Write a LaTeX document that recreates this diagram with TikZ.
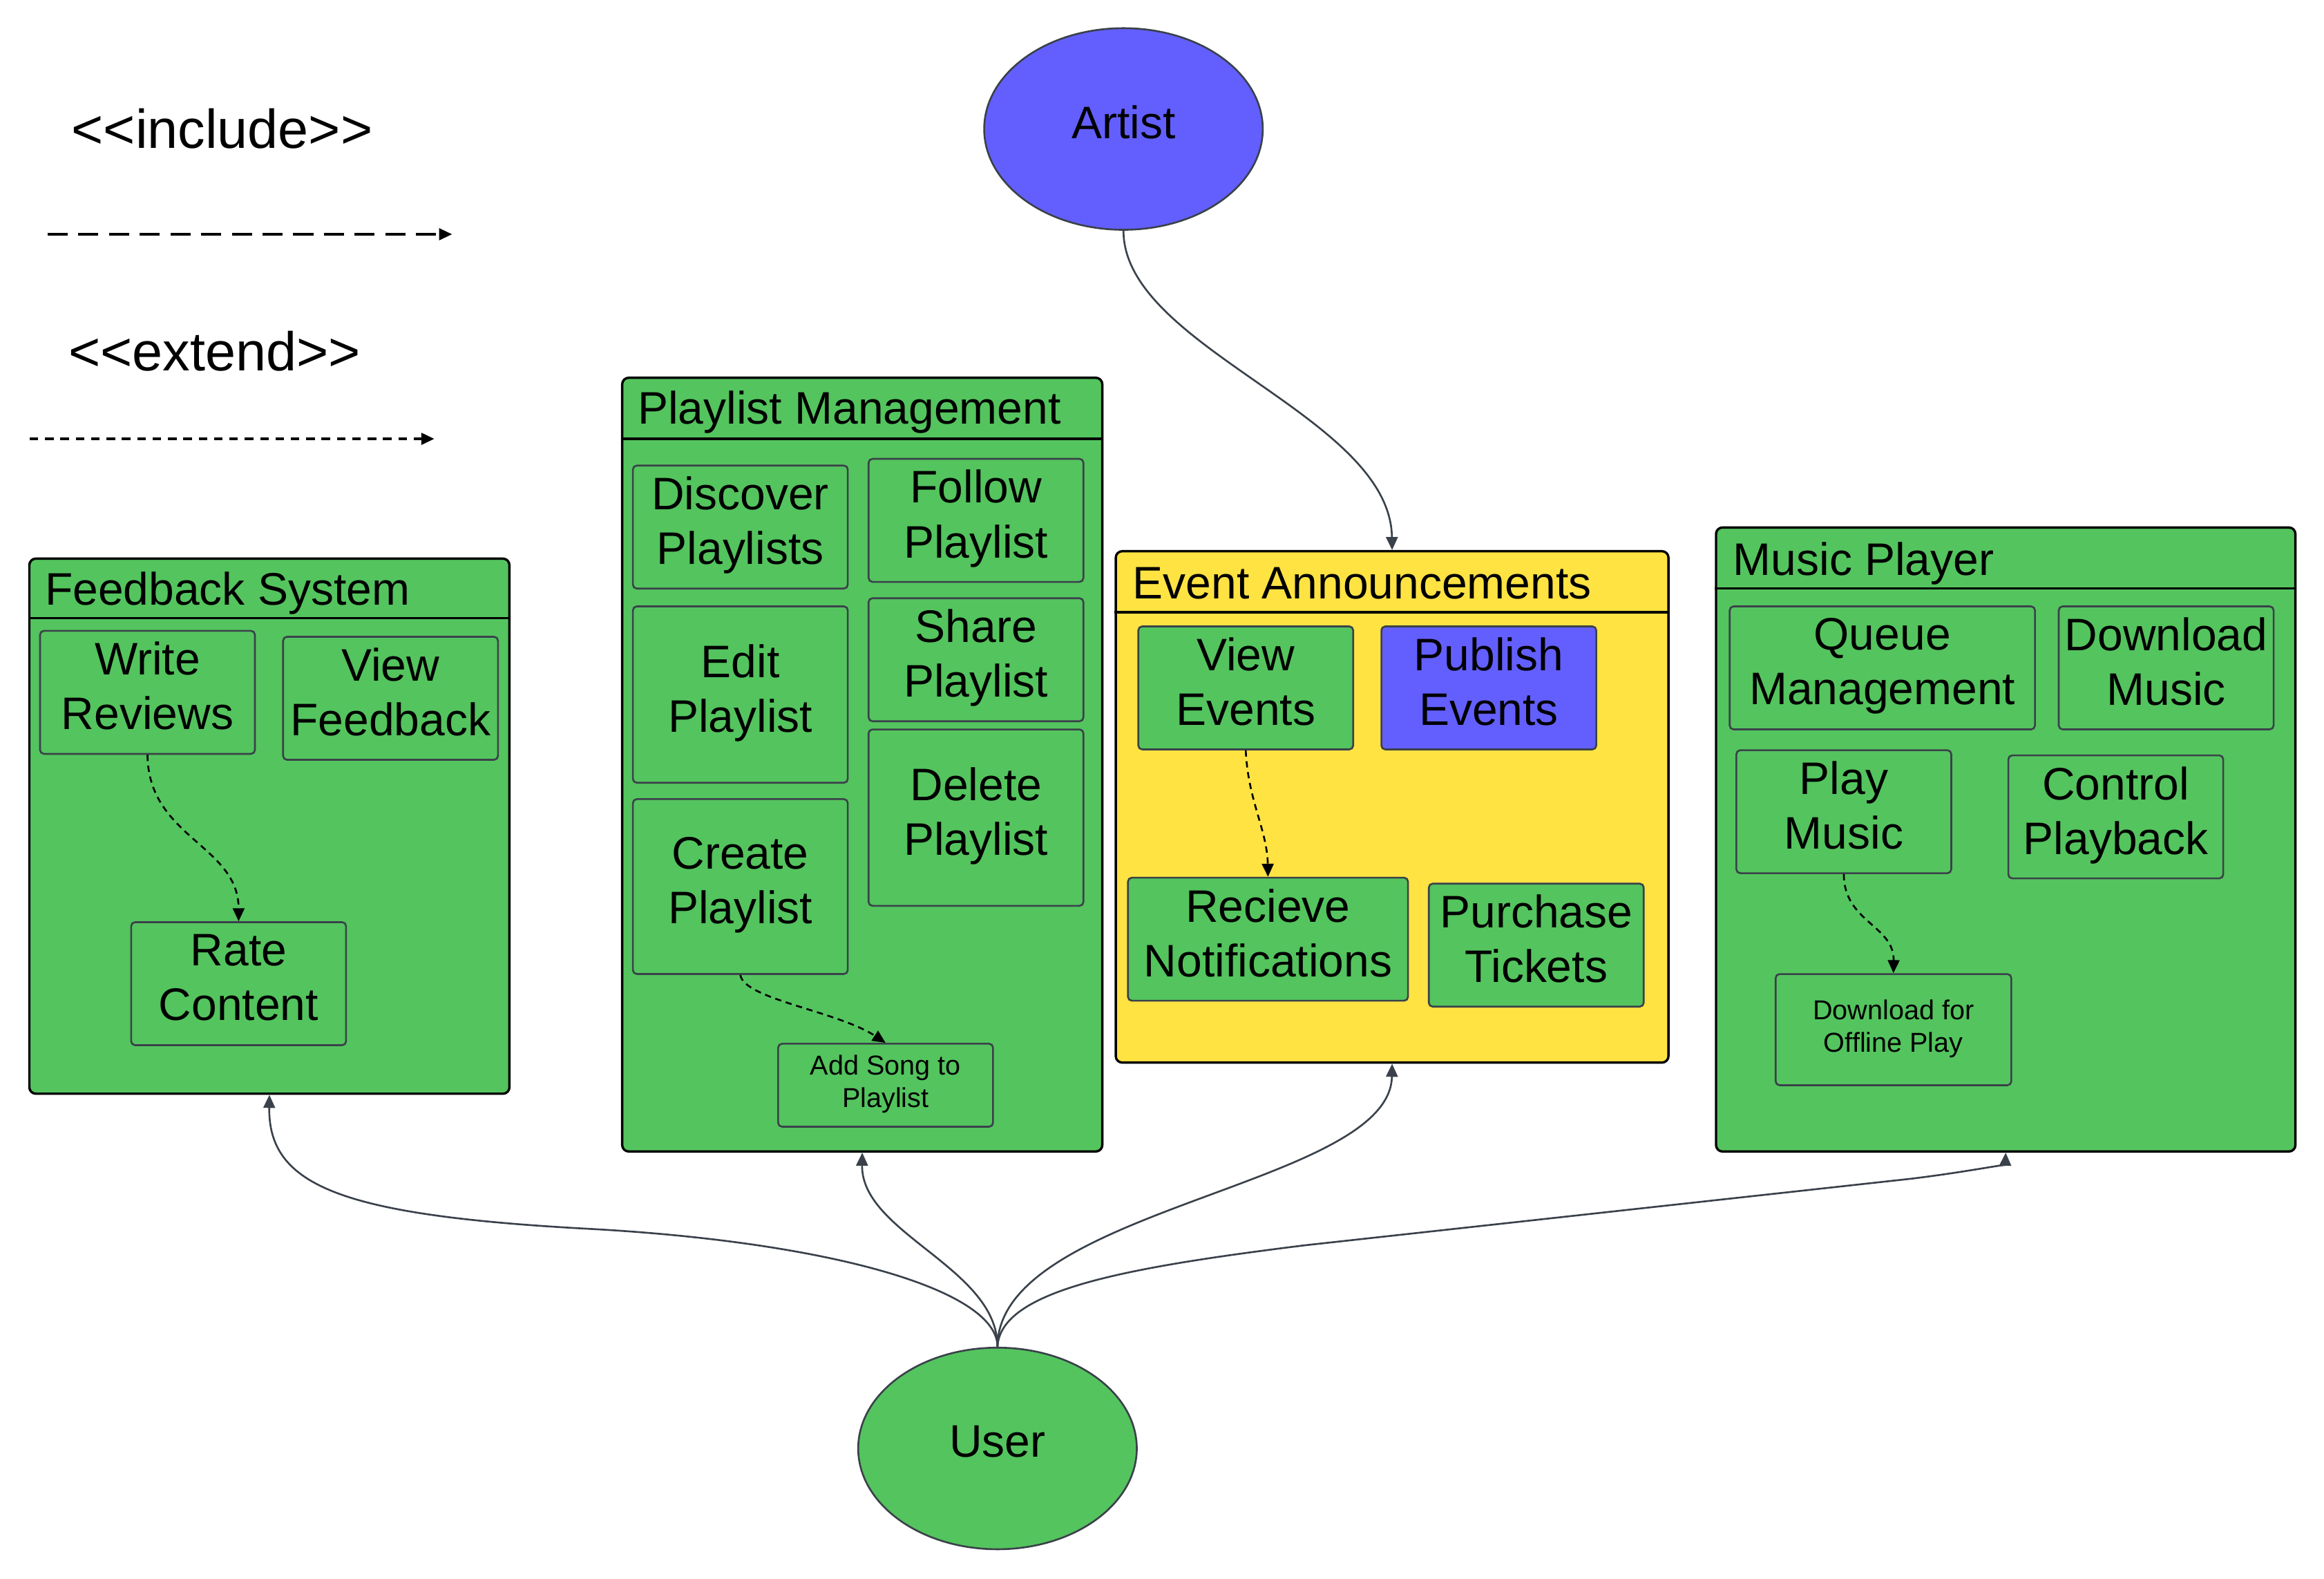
\documentclass[tikz,border=0pt]{standalone}
\usepackage{fontspec}
\setmainfont{Liberation Sans}
\usetikzlibrary{arrows.meta,shapes.geometric,positioning}
\definecolor{ucgreen}{HTML}{54C45E}
\definecolor{ucyellow}{HTML}{FFE342}
\definecolor{ucblue}{HTML}{635FFF}
\definecolor{ucline}{HTML}{3A414A}
\tikzset{
  sysbox/.style={draw=black,line width=0.9pt,rounded corners=2.5pt,fill=ucgreen,anchor=north west,inner sep=0pt},
  boxtitle/.style={anchor=base west,inner sep=0pt,font=\fontsize{17.5}{21}\selectfont},
  usecase/.style={draw=ucline,line width=0.7pt,rounded corners=1.5pt,fill=ucgreen,align=center,inner sep=0pt,
    font=\fontsize{17.5}{21}\selectfont,text depth=5pt,minimum width=2.9cm,minimum height=1.66cm},
  smalltext/.style={font=\fontsize{10.5}{12.5}\selectfont,text depth=3pt},
  actor/.style={ellipse,draw=ucline,line width=0.7pt,minimum width=3.76cm,minimum height=2.72cm,
    font=\fontsize{17.5}{21}\selectfont,text depth=5.5pt},
  assoc/.style={draw=ucline,line width=0.7pt,-{Triangle[length=5pt,width=4.5pt]}},
  extarrow/.style={black,line width=0.7pt,dash pattern=on 2.4pt off 1.8pt,-{Triangle[length=5pt,width=4.5pt]}},
  legendtext/.style={anchor=base west,inner sep=0pt,font=\fontsize{21}{25}\selectfont}
}
\begin{document}
\begin{tikzpicture}[x=0.02cm,y=-0.02cm]
\useasboundingbox (0,0) rectangle (1568,1065);
% legend
\node[legendtext] (inc) at (48,100) {<\kern0pt<include>\kern0pt>};
\coordinate (incA) at (32,158); \coordinate (incB) at (305,158);
\draw[black,line width=0.9pt,dash pattern=on 7.7pt off 4.1pt,-{Triangle[length=5pt,width=4.5pt]}](incA)--(incB);
\node[legendtext] (ext) at (46,250) {<\kern0pt<extend>\kern0pt>};
\coordinate (extA) at (20,296); \coordinate (extB) at (293,296);
\draw[black,line width=0.9pt,dash pattern=on 3.3pt off 2.6pt,-{Triangle[length=5pt,width=4.5pt]}](extA)--(extB);
% actors
\node[actor,fill=ucblue] (artist) at (758,87) {Artist};
\node[actor,fill=ucgreen] (user) at (673,977) {User};
% feedback system
\node[sysbox,minimum width=6.48cm,minimum height=7.22cm] (fb) at (19,376) {};
\draw[line width=0.9pt]([yshift=-0.82cm]fb.north west)--([yshift=-0.82cm]fb.north east);
\node[boxtitle] (fbt) at (30,408) {Feedback System};
\node[usecase] (wr) at (99.5,467) {Write\\Reviews};
\node[usecase] (vf) at (263.5,471) {View\\Feedback};
\node[usecase] (rc) at (161,663.5) {Rate\\Content};
\draw[extarrow](wr.south) .. controls (100,565) and (161,570) .. (rc.north);
% playlist management
\node[sysbox,minimum width=6.48cm,minimum height=10.44cm] (pl) at (419,254) {};
\draw[line width=0.9pt]([yshift=-0.84cm]pl.north west)--([yshift=-0.84cm]pl.north east);
\node[boxtitle] (plt) at (430,286) {Playlist Management};
\node[usecase] (dp) at (499.5,355.5) {Discover\\Playlists};
\node[usecase] (fp) at (658.5,351) {Follow\\Playlist};
\node[usecase,minimum height=2.38cm] (ep) at (499.5,468.5) {Edit\\Playlist};
\node[usecase] (sp) at (658.5,445) {Share\\Playlist};
\node[usecase,minimum height=2.38cm] (delp) at (658.5,551.5) {Delete\\Playlist};
\node[usecase,minimum height=2.36cm] (cp) at (499.5,598) {Create\\Playlist};
\node[usecase,smalltext,minimum height=1.12cm] (as) at (597.5,732) {Add Song to\\Playlist};
\draw[extarrow](cp.south) .. controls (502,674) and (565,682) .. (as.north);
% event announcements
\node[sysbox,fill=ucyellow,minimum width=7.46cm,minimum height=6.9cm] (ev) at (752,371) {};
\draw[line width=0.9pt]([yshift=-0.84cm]ev.north west)--([yshift=-0.84cm]ev.north east);
\node[boxtitle] (evt) at (764,404) {Event Announcements};
\node[usecase] (ve) at (840.5,464) {View\\Events};
\node[usecase,fill=ucblue] (pe) at (1004.5,464) {Publish\\Events};
\node[usecase,minimum width=3.78cm] (rn) at (855.5,633.5) {Recieve\\Notifications};
\node[usecase] (pt) at (1036.5,637.5) {Purchase\\Tickets};
\draw[extarrow](ve.south) .. controls (842,540) and (855,560) .. (rn.north);
% music player
\node[sysbox,minimum width=7.82cm,minimum height=8.42cm] (mp) at (1157,355) {};
\draw[line width=0.9pt]([yshift=-0.84cm]mp.north west)--([yshift=-0.84cm]mp.north east);
\node[boxtitle] (mpt) at (1169,388) {Music Player};
\node[usecase,minimum width=4.12cm] (qm) at (1270,450.5) {Queue\\Management};
\node[usecase] (dm) at (1461.5,450.5) {Download\\Music};
\node[usecase] (pm) at (1244,547.5) {Play\\Music};
\node[usecase] (cpb) at (1427.5,551) {Control\\Playback};
\node[usecase,smalltext,minimum width=3.18cm,minimum height=1.5cm] (dop) at (1277.5,694.5) {Download for\\Offline Play};
\draw[extarrow](pm.south) .. controls (1244,622) and (1278,624) .. (dop.north);
% associations
\draw[assoc](artist.south) .. controls (758,235) and (938,280) .. (ev.north);
\draw[assoc](user.north) .. controls (673,870) and (560,838) .. (400,829) .. controls (230,820) and (181,800) .. (fb.south);
\draw[assoc](user.north) .. controls (673,855) and (581,832) .. (pl.south);
\draw[assoc](user.north) .. controls (673,815) and (938,800) .. (ev.south);
\draw[assoc](user.north) .. controls (675,870) and (760,855) .. (880,840) -- (1290,795) .. controls (1330,790) and (1353,785) .. (mp.south);
\end{tikzpicture}
\end{document}
